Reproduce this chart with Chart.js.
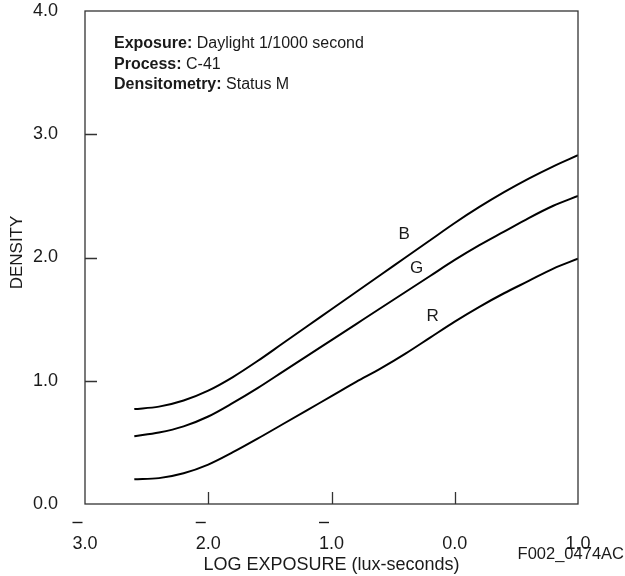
<!DOCTYPE html>
<html>
<head>
<meta charset="utf-8">
<script src="https://cdn.jsdelivr.net/npm/chart.js@4"></script>
<style>
  html, body { margin: 0; padding: 0; background: #fff; }
  #wrap { width: 625px; height: 576px; }
</style>
</head>
<body>
<div id="wrap"><canvas id="c" width="625" height="576"></canvas></div>
<script>
// ---- data ----
const logExposure = [-2.6, -2.4, -2.2, -2.0, -1.8, -1.6, -1.4, -1.2, -1.0, -0.8, -0.6, -0.4, -0.2, 0.0, 0.2, 0.4, 0.6, 0.8, 1.0];
const densityB = [0.77, 0.79, 0.84, 0.92, 1.03, 1.16, 1.30, 1.44, 1.58, 1.72, 1.86, 2.00, 2.14, 2.28, 2.41, 2.53, 2.64, 2.74, 2.83];
const densityG = [0.55, 0.58, 0.63, 0.71, 0.82, 0.94, 1.07, 1.20, 1.33, 1.46, 1.59, 1.72, 1.85, 1.98, 2.10, 2.21, 2.32, 2.42, 2.50];
const densityR = [0.20, 0.21, 0.25, 0.32, 0.42, 0.53, 0.645, 0.76, 0.875, 0.99, 1.10, 1.22, 1.35, 1.48, 1.60, 1.71, 1.81, 1.91, 1.99];
const seriesNames = ['B', 'G', 'R'];
const xTickValues = [-3, -2, -1, 0, 1];
const yTickValues = [0, 1, 2, 3, 4];
const xTitle = 'LOG EXPOSURE (lux-seconds)';
const yTitle = 'DENSITY';
const footnote = 'F002_0474AC';
const infoLines = [
  ['Exposure:', ' Daylight 1/1000 second'],
  ['Process:', ' C-41'],
  ['Densitometry:', ' Status M']
];
// label anchor points in data units (log exposure, density)
const curveLabelAt = { B: [-0.41, 2.19], G: [-0.31, 1.915], R: [-0.18, 1.52] };

const FONT = '"Liberation Sans", Arial, Helvetica, sans-serif';
const INK = '#1a1a1a';

function pts(ys) { return logExposure.map((x, i) => ({ x: x, y: ys[i] })); }
function xLabel(v) { return Math.abs(v).toFixed(1); }

const decor = {
  id: 'decor',
  afterDraw(chart) {
    const { ctx, chartArea: a, scales: { x, y } } = chart;
    ctx.save();
    // frame
    ctx.strokeStyle = '#333';
    ctx.lineWidth = 1.3;
    ctx.strokeRect(a.left, a.top, a.right - a.left, a.bottom - a.top);
    // inward ticks
    ctx.beginPath();
    yTickValues.forEach(v => {
      if (v <= y.min || v >= y.max) return;
      const py = Math.round(y.getPixelForValue(v)) + 0.5;
      ctx.moveTo(a.left, py); ctx.lineTo(a.left + 12, py);
    });
    xTickValues.forEach(v => {
      if (v <= x.min || v >= x.max) return;
      const px = Math.round(x.getPixelForValue(v)) + 0.5;
      ctx.moveTo(px, a.bottom); ctx.lineTo(px, a.bottom - 12);
    });
    ctx.stroke();
    // overbars on negative characteristics
    ctx.font = '18px ' + FONT;
    ctx.strokeStyle = INK;
    ctx.lineWidth = 1.4;
    xTickValues.forEach(v => {
      if (v >= 0) return;
      const label = xLabel(v);
      const w = ctx.measureText(label).width;
      const dw = ctx.measureText(label[0]).width;
      const cx = x.getPixelForValue(v);
      const x0 = cx - w / 2;
      ctx.beginPath();
      ctx.moveTo(x0, a.bottom + 18.5);
      ctx.lineTo(x0 + dw, a.bottom + 18.5);
      ctx.stroke();
    });
    // axis titles
    ctx.fillStyle = INK;
    ctx.font = '18px ' + FONT;
    ctx.textAlign = 'center';
    ctx.textBaseline = 'middle';
    ctx.fillText(xTitle, (a.left + a.right) / 2, 565);
    ctx.save();
    ctx.translate(17, (a.top + a.bottom) / 2 - 5);
    ctx.rotate(-Math.PI / 2);
    ctx.font = '17px ' + FONT;
    ctx.fillText(yTitle, 0, 0);
    ctx.restore();
    // footnote
    ctx.font = '16.5px ' + FONT;
    ctx.textAlign = 'right';
    ctx.fillText(footnote, 624, 554);
    // info block
    ctx.textAlign = 'left';
    ctx.textBaseline = 'alphabetic';
    infoLines.forEach((ln, i) => {
      const bx = a.left + 29, by = a.top + 37 + i * 20.5;
      ctx.font = 'bold 16px ' + FONT;
      ctx.fillText(ln[0], bx, by);
      const w = ctx.measureText(ln[0]).width;
      ctx.font = '16px ' + FONT;
      ctx.fillText(ln[1], bx + w, by);
    });
    // curve labels
    ctx.font = '17px ' + FONT;
    ctx.textAlign = 'center';
    ctx.textBaseline = 'middle';
    seriesNames.forEach(n => {
      const p = curveLabelAt[n];
      ctx.fillText(n, x.getPixelForValue(p[0]), y.getPixelForValue(p[1]));
    });
    ctx.restore();
  }
};

const lineStyle = {
  borderColor: '#000',
  borderWidth: 2,
  pointRadius: 0,
  fill: false,
  cubicInterpolationMode: 'monotone'
};

new Chart(document.getElementById('c'), {
  type: 'line',
  data: {
    datasets: [
      Object.assign({ label: seriesNames[0], data: pts(densityB) }, lineStyle),
      Object.assign({ label: seriesNames[1], data: pts(densityG) }, lineStyle),
      Object.assign({ label: seriesNames[2], data: pts(densityR) }, lineStyle)
    ]
  },
  options: {
    responsive: false,
    animation: false,
    devicePixelRatio: 1,
    layout: { padding: { left: 0, right: 47, top: 11, bottom: 0 } },
    plugins: { legend: { display: false }, tooltip: { enabled: false } },
    scales: {
      x: {
        type: 'linear',
        min: -3, max: 1,
        grid: { display: false },
        border: { display: false },
        afterBuildTicks(s) { s.ticks = xTickValues.map(v => ({ value: v })); },
        afterFit(s) { s.height = 72; s.paddingLeft = 0; s.paddingRight = 0; },
        ticks: {
          padding: 21,
          color: INK,
          font: { family: FONT, size: 18 },
          maxRotation: 0,
          callback: v => xLabel(v)
        }
      },
      y: {
        type: 'linear',
        min: 0, max: 4,
        grid: { display: false },
        border: { display: false },
        afterBuildTicks(s) { s.ticks = yTickValues.map(v => ({ value: v })); },
        afterFit(s) { s.width = 85; s.paddingTop = 0; s.paddingBottom = 0; },
        ticks: {
          padding: 19,
          color: INK,
          font: { family: FONT, size: 18 },
          callback: v => Number(v).toFixed(1)
        }
      }
    }
  },
  plugins: [decor]
});
</script>
</body>
</html>
